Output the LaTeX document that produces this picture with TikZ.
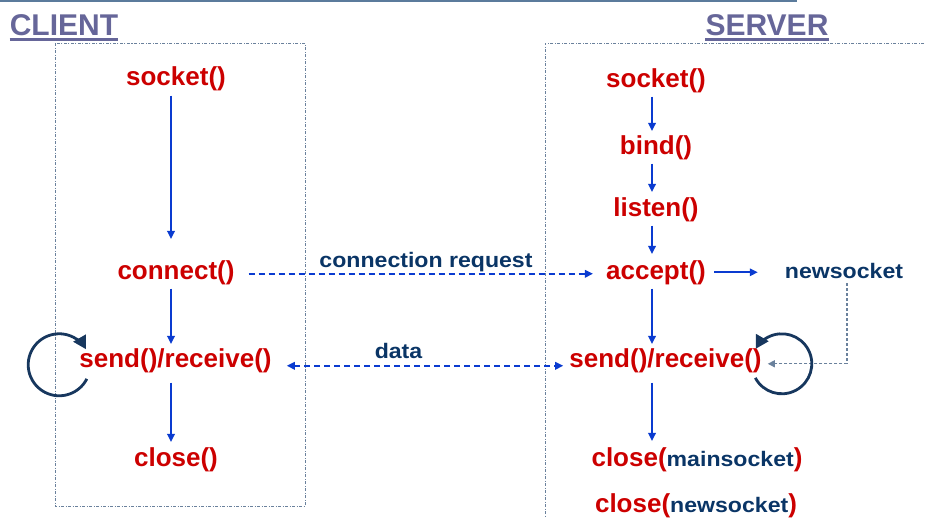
\documentclass[tikz,border=0pt]{standalone}
\usepackage{fontspec}
\setmainfont{Liberation Sans}
\usepackage{graphicx}
\usetikzlibrary{arrows.meta}
\definecolor{redt}{HTML}{CC0000}
\definecolor{navyt}{HTML}{0A3566}
\definecolor{arrblue}{HTML}{0A3BD0}
\definecolor{titlec}{HTML}{666699}
\definecolor{boxc}{HTML}{6A819C}
\definecolor{topc}{HTML}{5B7B9C}
\definecolor{loopc}{HTML}{17375E}
\newcommand{\blu}[1]{{\color{navyt}\fontsize{21}{24}\selectfont\scalebox{1.1}[1]{#1}}}
\tikzset{
  fn/.style={anchor=base, inner sep=0pt, text=redt, font=\fontsize{26}{29}\selectfont\bfseries},
  lbl/.style={anchor=base, inner sep=0pt, font=\bfseries},
  ttl/.style={anchor=base, inner sep=0pt, text=titlec, font=\fontsize{30}{34}\selectfont\bfseries},
  ul/.style={titlec, line width=2.5pt},
  arr/.style={arrblue, line width=1.8pt, -{Triangle[length=8pt,width=7.5pt]}},
  darr/.style={arrblue, line width=1.8pt, dash pattern=on 6pt off 4pt, -{Triangle[length=8pt,width=7.5pt]}},
  ddarr/.style={arrblue, line width=1.8pt, dash pattern=on 6pt off 4pt, {Triangle[length=8pt,width=7.5pt]}-{Triangle[length=8pt,width=7.5pt]}},
  thind/.style={boxc, line width=1.2pt, dash pattern=on 3pt off 2pt, -{Triangle[length=7pt,width=7pt]}},
  boxst/.style={boxc, line width=0.9pt, dash pattern=on 3pt off 1.5pt on 1pt off 1.5pt},
  loopst/.style={loopc, line width=2.8pt, -{Triangle[length=13pt,width=14pt]}}
}
\begin{document}
\begin{tikzpicture}[x=1pt,y=-1pt]
\useasboundingbox (0,0) rectangle (925,517);
% top rule
\draw[topc, line width=2pt] (0,1) -- (797,1);
% boxes
\draw[boxst] (55,43) rectangle (305,506);
\draw[boxst] (924,43) -- (545,43) -- (545,517);
% titles
\node[ttl] (cl) at (64,35) {CLIENT};
\node[ttl] (sv) at (767,35) {SERVER};
\draw[ul] ([yshift=-4pt]cl.south west) -- ([yshift=-4pt]cl.south east);
\draw[ul] ([yshift=-4pt]sv.south west) -- ([yshift=-4pt]sv.south east);
% column coordinates
\coordinate (cx) at (171,0);
\coordinate (sx) at (652,0);
% client
\node[fn] (sockC) at (176,85) {socket()};
\node[fn] (connC) at (176,279) {connect()};
\node[fn] (srC) at (175.5,367) {send()/receive()};
\node[fn] (closeC) at (176,466) {close()};
\draw[arr, shorten <=5pt, shorten >=21pt] (sockC.south -| cx) -- (connC.north -| cx);
\draw[arr, shorten <=4pt, shorten >=4pt] (connC.south -| cx) -- (srC.north -| cx);
\draw[arr, shorten <=10pt, shorten >=5pt] (srC.south -| cx) -- (closeC.north -| cx);
% server
\node[fn] (sockS) at (656,87) {socket()};
\node[fn] (bindS) at (656,154) {bind()};
\node[fn] (listenS) at (656,216) {listen()};
\node[fn] (acceptS) at (656,279) {accept()};
\node[fn] (srS) at (665.5,367) {send()/receive()};
\node[fn] (closeM) at (697,466) {close(\blu{mainsocket})};
\node[fn] (closeN) at (696,512) {close(\blu{newsocket})};
\node[lbl] (nsock) at (844,278) {\blu{newsocket}};
\draw[arr, shorten <=4pt, shorten >=4pt] (sockS.south -| sx) -- (bindS.north -| sx);
\draw[arr, shorten <=4pt, shorten >=5pt] (bindS.south -| sx) -- (listenS.north -| sx);
\draw[arr, shorten <=4pt, shorten >=6pt] (listenS.south -| sx) -- (acceptS.north -| sx);
\draw[arr, shorten <=4pt, shorten >=4pt] (acceptS.south -| sx) -- (srS.north -| sx);
\draw[arr, shorten <=10pt, shorten >=6pt] (srS.south -| sx) -- (closeM.north -| sx);
\draw[arr] ([xshift=8pt]acceptS.east) -- ([xshift=-27pt]nsock.west |- acceptS.east);
\draw[thind] ([xshift=3pt,yshift=-5pt]nsock.south) |- ([xshift=6pt,yshift=-3.5pt]srS.east);
% between
\node[lbl] (creq) at (426,267) {\blu{connection request}};
\node[lbl] (data) at (398.5,358) {\blu{data}};
\draw[darr, shorten <=14pt, shorten >=13pt] ([yshift=-1.5pt]connC.east) -- ([yshift=-1.5pt]acceptS.west);
\draw[ddarr, shorten <=15pt, shorten >=6pt] ([yshift=-5.5pt]srC.east) -- ([yshift=-5.5pt]srS.west);
% loops
\draw[loopst] ([xshift=-20pt,yshift=-4.5pt]srC.west) ++(-27:31pt) arc[start angle=-27, end angle=-330, radius=31pt];
\draw[loopst] ([xshift=20pt,yshift=-3.5pt]srS.east) ++(208:30pt) arc[start angle=208, end angle=510, radius=30pt];
\end{tikzpicture}
\end{document}
